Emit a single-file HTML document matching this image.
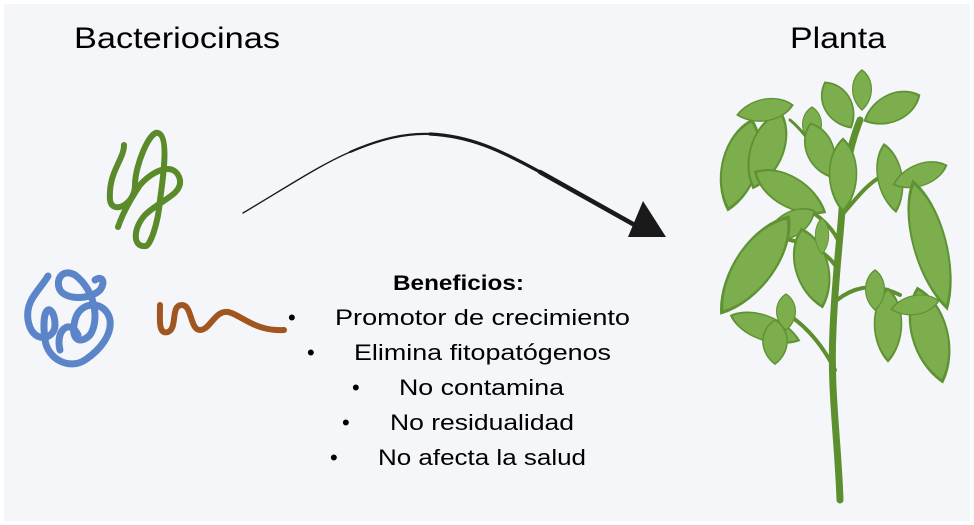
<!DOCTYPE html>
<html><head><meta charset="utf-8"><style>
html,body{margin:0;padding:0;background:#fff;}
svg{display:block;}
text{font-family:"Liberation Sans",sans-serif;fill:#000;}
</style></head><body>
<svg width="974" height="525" viewBox="0 0 974 525">
<defs>
<path id="lf" d="M0,-1 C0.9,-0.55 0.9,0.45 0,1 C-0.9,0.45 -0.9,-0.55 0,-1 Z"/>
</defs>
<rect x="4" y="4" width="966" height="517" fill="#f5f6fa"/>
<text x="74" y="48" font-size="30" textLength="206" lengthAdjust="spacingAndGlyphs">Bacteriocinas</text>
<text x="790" y="48" font-size="30" textLength="96" lengthAdjust="spacingAndGlyphs">Planta</text>
<!-- arrow -->
<path d="M243,213 C290,185 320,165 350,152" fill="none" stroke="#1a1a1a" stroke-width="1.4" stroke-linecap="round"/>
<path d="M350,152 C380,139 405,133 430,134" fill="none" stroke="#1a1a1a" stroke-width="2.2" stroke-linecap="round"/>
<path d="M430,134 C470,136 500,150 540,172" fill="none" stroke="#1a1a1a" stroke-width="3.2" stroke-linecap="round"/>
<path d="M540,172 L640,228" fill="none" stroke="#1a1a1a" stroke-width="4.5" stroke-linecap="round"/>
<polygon points="643,201 628,237 666,237" fill="#1a1a1a"/>
<!-- green coil -->
<g fill="none" stroke="#5a8a2a" stroke-width="6" stroke-linecap="round" stroke-linejoin="round">
<path d="M124,145 C124,160 108,172 110,200 C112,215 135,205 135,185 C135,165 150,130 158,133 C170,136 162,185 160,200 C158,225 150,245 146,246 C132,248 133,228 145,215 C160,200 182,195 180,180 C176,162 155,168 140,185 C130,200 122,215 118,227"/>
</g>
<!-- blue coil -->
<g fill="none" stroke="#5b85c8" stroke-width="7" stroke-linecap="round" stroke-linejoin="round">
<path d="M48,276 C40,290 25,300 28,320 C32,345 55,340 55,325 C55,305 40,300 45,340 C48,360 70,370 85,360 C100,350 112,335 110,320 C106,300 80,300 75,320 C70,340 80,345 90,335 C100,320 95,290 75,275 C62,268 55,280 60,290 C66,300 90,300 100,290 C106,282 102,275 95,280"/>
<path d="M60,350 C55,330 70,318 78,335"/>
</g>
<!-- brown worm -->
<path d="M160,305 C160,320 158,335 168,332 C178,328 170,305 182,305 C192,305 190,330 200,330 C210,330 215,310 228,312 C240,314 255,332 284,330" fill="none" stroke="#a0561e" stroke-width="6" stroke-linecap="round"/>
<!-- text -->
<text x="393" y="290" font-size="21" font-weight="bold" textLength="131" lengthAdjust="spacingAndGlyphs">Beneficios:</text>
<g font-size="22">
<text x="288" y="325">•</text><text x="335" y="325" textLength="295" lengthAdjust="spacingAndGlyphs">Promotor de crecimiento</text>
<text x="307" y="360">•</text><text x="354" y="360" textLength="257" lengthAdjust="spacingAndGlyphs">Elimina fitopatógenos</text>
<text x="352" y="395">•</text><text x="399" y="395" textLength="165" lengthAdjust="spacingAndGlyphs">No contamina</text>
<text x="342" y="430">•</text><text x="390" y="430" textLength="184" lengthAdjust="spacingAndGlyphs">No residualidad</text>
<text x="330" y="465">•</text><text x="378" y="465" textLength="208" lengthAdjust="spacingAndGlyphs">No afecta la salud</text>
</g>
<!-- plant -->
<g stroke="#5e8f2e" stroke-linecap="round" fill="none">
<path d="M840,500 C838,440 830,390 833,330 C835,280 840,240 842,210 C844,180 848,150 860,120" stroke-width="7"/>
<path d="M835,370 C820,340 800,320 780,310" stroke-width="4"/>
<path d="M837,300 C850,290 870,280 900,295" stroke-width="4"/>
<path d="M840,245 C835,230 820,215 800,205" stroke-width="4"/>
<path d="M842,215 C855,200 870,180 885,175" stroke-width="4"/>
<path d="M838,270 C830,255 815,245 790,240" stroke-width="4"/>
<path d="M843,200 C830,180 815,140 790,120" stroke-width="3"/>
</g>
<g fill="#7cae4e" stroke="#5f9233" stroke-width="0.08">
<use href="#lf" transform="translate(740,165) rotate(15) scale(26,46)"/>
<use href="#lf" transform="translate(767,150) rotate(20) scale(24,40)"/>
<use href="#lf" transform="translate(765,110) rotate(80) scale(16,28)"/>
<use href="#lf" transform="translate(812,125) scale(14,18)"/>
<use href="#lf" transform="translate(820,150) rotate(-20) scale(20,28)"/>
<use href="#lf" transform="translate(838,105) rotate(-30) scale(20,26)"/>
<use href="#lf" transform="translate(862,90) scale(14,20)"/>
<use href="#lf" transform="translate(892,108) rotate(65) scale(20,30)"/>
<use href="#lf" transform="translate(843,175) scale(20,36)"/>
<use href="#lf" transform="translate(790,192) rotate(-60) scale(22,40)"/>
<use href="#lf" transform="translate(790,225) rotate(60) scale(18,28)"/>
<use href="#lf" transform="translate(890,178) rotate(-10) scale(18,34)"/>
<use href="#lf" transform="translate(920,175) rotate(70) scale(16,28)"/>
<use href="#lf" transform="translate(930,245) rotate(-15) scale(24,65)"/>
<use href="#lf" transform="translate(755,265) rotate(35) scale(28,58)"/>
<use href="#lf" transform="translate(812,268) rotate(-15) scale(24,40)"/>
<use href="#lf" transform="translate(822,236) scale(10,18)"/>
<use href="#lf" transform="translate(765,328) rotate(-70) scale(18,36)"/>
<use href="#lf" transform="translate(786,312) scale(14,18)"/>
<use href="#lf" transform="translate(775,342) scale(18,22)"/>
<use href="#lf" transform="translate(888,325) scale(20,36)"/>
<use href="#lf" transform="translate(875,290) scale(14,20)"/>
<use href="#lf" transform="translate(930,335) rotate(-15) scale(26,48)"/>
<use href="#lf" transform="translate(915,305) rotate(80) scale(14,24)"/>
</g>
</svg>
</body></html>
